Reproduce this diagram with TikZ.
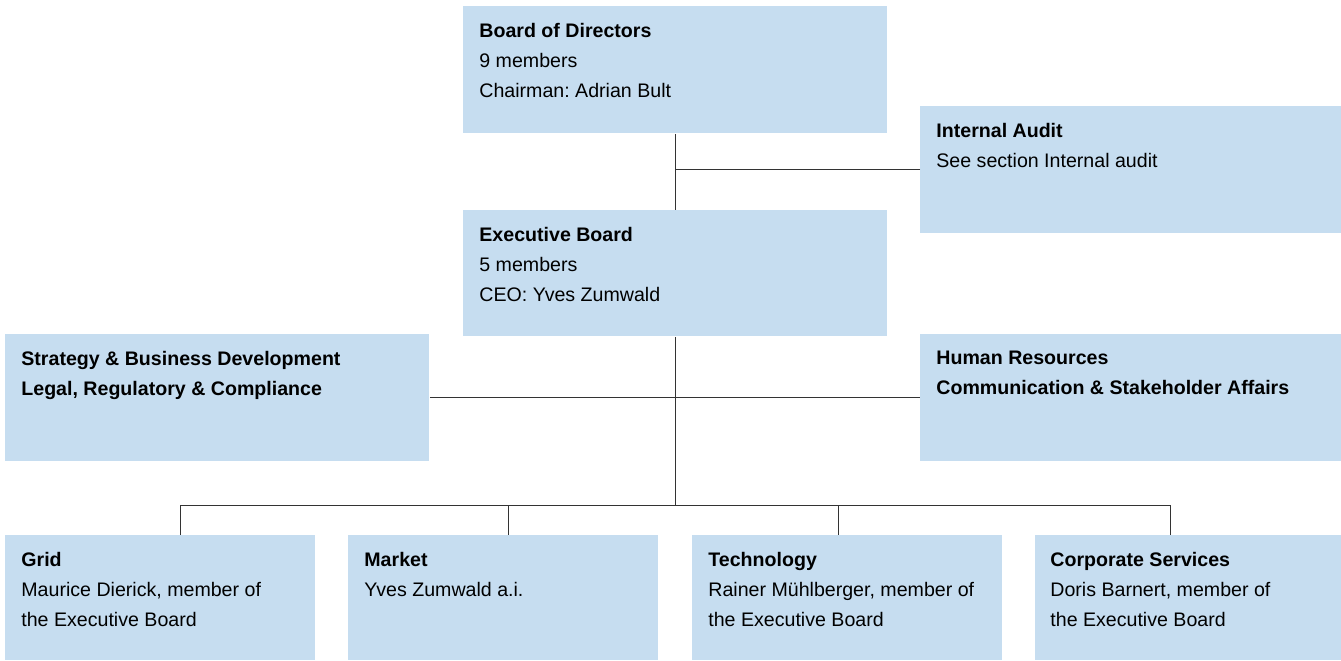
\documentclass[tikz,border=0pt]{standalone}
\usepackage{fontspec}
\setmainfont{Liberation Sans}
\frenchspacing
\definecolor{boxblue}{HTML}{C6DDF0}
\tikzset{
  unit/.style={fill=boxblue, anchor=north west, inner sep=0pt},
  txt/.style={anchor=north west, align=left, inner sep=0pt,
    font=\fontsize{9.8pt}{15pt}\selectfont},
  link/.style={draw=black!80, line width=0.5pt}
}
\begin{document}
\begin{tikzpicture}[x=0.5pt,y=-0.5pt]
\useasboundingbox (0,0) rectangle (1341,660);
% boxes
\node[unit, minimum width=212pt, minimum height=63.5pt] (board) at (463,6) {};
\node[unit, minimum width=210.5pt, minimum height=63.5pt] (audit) at (920,106) {};
\node[unit, minimum width=212pt, minimum height=63pt] (exec) at (463,210) {};
\node[unit, minimum width=212pt, minimum height=63.5pt] (strategy) at (5,334) {};
\node[unit, minimum width=210.5pt, minimum height=63.5pt] (hr) at (920,334) {};
\node[unit, minimum width=155pt, minimum height=62.5pt] (grid) at (5,535) {};
\node[unit, minimum width=155pt, minimum height=62.5pt] (market) at (348,535) {};
\node[unit, minimum width=155pt, minimum height=62.5pt] (tech) at (692,535) {};
\node[unit, minimum width=153pt, minimum height=62.5pt] (corp) at (1035,535) {};
% texts
\node[txt] (board-t) at ([xshift=8pt,yshift=-8.5pt]board.north west)
  {\textbf{Board of Directors}\\9 members\\Chairman: Adrian Bult};
\node[txt] (audit-t) at ([xshift=8pt,yshift=-8.5pt]audit.north west)
  {\textbf{Internal Audit}\\See section Internal audit};
\node[txt] (exec-t) at ([xshift=8pt,yshift=-8.5pt]exec.north west)
  {\textbf{Executive Board}\\5 members\\CEO: Yves Zumwald};
\node[txt] (strategy-t) at ([xshift=8pt,yshift=-8.5pt]strategy.north west)
  {\textbf{Strategy \& Business Development}\\\textbf{Legal, Regulatory \& Compliance}};
\node[txt] (hr-t) at ([xshift=8pt,yshift=-8.5pt]hr.north west)
  {\textbf{Human Resources}\\\textbf{Communication \& Stakeholder Affairs}};
\node[txt] (grid-t) at ([xshift=8pt,yshift=-8.5pt]grid.north west)
  {\textbf{Grid}\\Maurice Dierick, member of\\the Executive Board};
\node[txt] (market-t) at ([xshift=8pt,yshift=-8.5pt]market.north west)
  {\textbf{Market}\\Yves Zumwald a.i.};
\node[txt] (tech-t) at ([xshift=8pt,yshift=-8.5pt]tech.north west)
  {\textbf{Technology}\\Rainer Mühlberger, member of\\the Executive Board};
\node[txt] (corp-t) at ([xshift=7.5pt,yshift=-8.5pt]corp.north west)
  {\textbf{Corporate Services}\\Doris Barnert, member of\\the Executive Board};
% connectors
\coordinate (d1) at (180,505);
\coordinate (d2) at (508,505);
\coordinate (d3) at (838,505);
\coordinate (d4) at (1170,505);
\coordinate (bus) at (exec.south |- d1);
\draw[link] (board.south) -- (exec.north);
\draw[link] (audit.west) -- (audit.west -| board.south);
\draw[link] (strategy.east) -- (hr.west);
\draw[link] (exec.south) -- (bus);
\draw[link] (d1) -- (d4);
\draw[link] (d1) -- (d1 |- grid.north);
\draw[link] (d2) -- (d2 |- market.north);
\draw[link] (d3) -- (d3 |- tech.north);
\draw[link] (d4) -- (d4 |- corp.north);
\end{tikzpicture}
\end{document}
